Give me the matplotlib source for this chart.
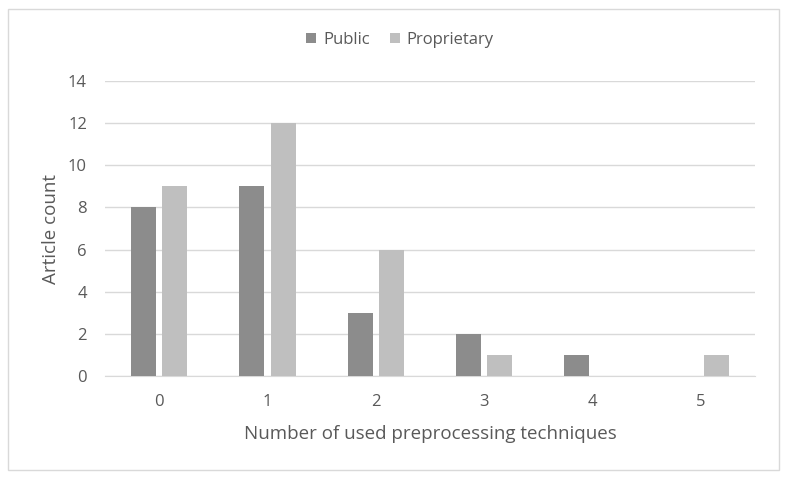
import numpy as np
import matplotlib.pyplot as plt
from matplotlib.patches import Rectangle

# Data
categories = ['0', '1', '2', '3', '4', '5']
public = [8, 9, 3, 2, 1, 0]
proprietary = [9, 12, 6, 1, 0, 1]

txt_color = '#595959'
plt.rcParams['font.family'] = ['Open Sans', 'DejaVu Sans']

fig = plt.figure(figsize=(7.86, 4.79), dpi=100)
ax = fig.add_axes([105/786, 1-376/479, 650/786, 295/479])

x = np.arange(len(categories))
w = 0.23
ax.bar(x - 0.145, public, width=w, color='#8c8c8c', label='Public', zorder=3)
ax.bar(x + 0.145, proprietary, width=w, color='#bfbfbf', label='Proprietary', zorder=3)

ax.set_xlim(-0.5, 5.5)
ax.set_ylim(0, 14)
ax.set_yticks(range(0, 15, 2))
ax.set_xticks(x)
ax.set_xticklabels(categories)
ax.yaxis.grid(True, color='#d9d9d9', linewidth=1, zorder=0)
for s in ['top', 'right', 'left']:
    ax.spines[s].set_visible(False)
ax.spines['bottom'].set_color('#d9d9d9')
ax.tick_params(length=0, colors=txt_color, labelsize=12)
ax.tick_params(axis='y', pad=13)
ax.tick_params(axis='x', pad=13)

ax.set_xlabel('Number of used preprocessing techniques', color=txt_color, fontsize=13.5, labelpad=11)
ax.set_ylabel('Article count', color=txt_color, fontsize=13.5, labelpad=6)

leg = fig.legend(loc='center', bbox_to_anchor=(400/786, 1-40/479), ncol=2, frameon=False,
                 fontsize=12, handlelength=0.6, handleheight=0.6, handletextpad=0.4,
                 columnspacing=1.2)
for t in leg.get_texts():
    t.set_color(txt_color)

# outer border
fig.patches.append(Rectangle((8/786, 9/479), 771/786, 461/479, transform=fig.transFigure,
                             fill=False, edgecolor='#d9d9d9', linewidth=1))

fig.savefig('out.png', dpi=100)
